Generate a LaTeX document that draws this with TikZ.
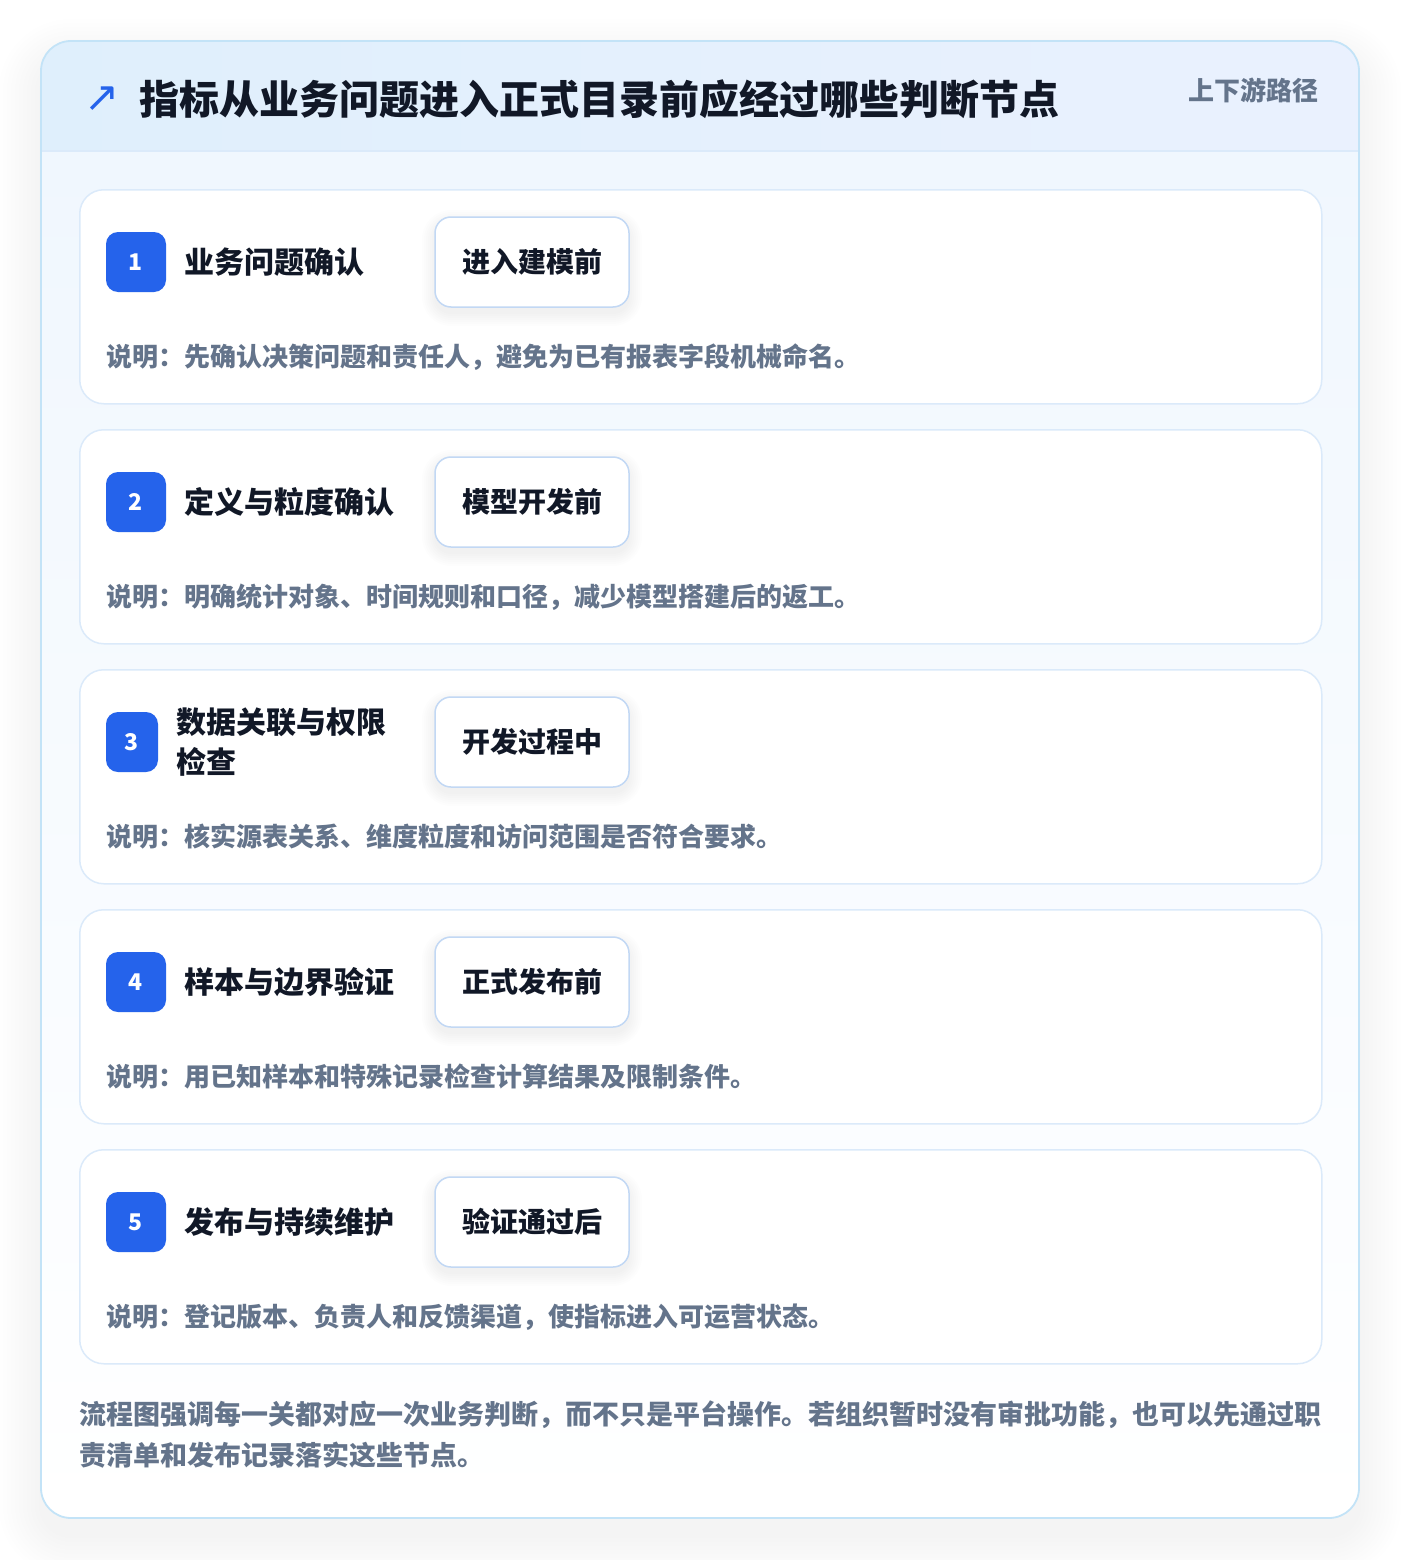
\documentclass[tikz,border=0pt]{standalone}
\usepackage{fontspec}
\setmainfont{Noto Sans CJK SC}
\newfontfamily\symfont{DejaVu Sans}
\usetikzlibrary{calc}
\definecolor{badgeblue}{HTML}{2563EB}
\definecolor{titleink}{HTML}{111827}
\definecolor{mutedink}{HTML}{64748B}
\definecolor{outerline}{HTML}{C3E3F7}
\definecolor{cardline}{HTML}{DBEAFA}
\definecolor{tagline}{HTML}{C2D8F4}
\definecolor{headL}{HTML}{DFEFFC}
\definecolor{headR}{HTML}{EAF1FE}
\definecolor{bodyTop}{HTML}{F0F7FE}
\tikzset{
  cardbox/.style={draw=cardline, line width=1.5pt, fill=white, rounded corners=24pt,
    minimum width=1242pt, minimum height=214pt, anchor=north west, inner sep=0pt},
  badgebox/.style={fill=badgeblue, rounded corners=12pt, minimum height=60pt,
    inner sep=0pt, text=white, font=\bfseries\fontsize{23}{23}\selectfont},
  titletext/.style={anchor=west, inner sep=0pt, align=left, text=titleink,
    font=\bfseries\fontsize{30}{40}\selectfont},
  tagbox/.style={draw=tagline, line width=1.5pt, fill=white, rounded corners=16pt,
    minimum width=194pt, minimum height=90pt, inner sep=0pt, text=titleink,
    font=\bfseries\fontsize{28}{28}\selectfont},
  desctext/.style={anchor=west, inner sep=0pt, text=mutedink,
    font=\bfseries\fontsize{26}{26}\selectfont},
}
\begin{document}
\begin{tikzpicture}[x=1pt,y=-1pt]
\useasboundingbox (0,0) rectangle (1400,1560);
\fill[white] (0,0) rectangle (1400,1560);
% outer shadow
\foreach \r in {2,6,...,42}{
  \fill[black, opacity=0.0055, rounded corners=30pt+\r pt]
    (41-\r,41-\r+20) rectangle (1359+\r,1518+\r+18);
}
% outer card
\begin{scope}
  \clip[rounded corners=30pt] (41,41) rectangle (1359,1518);
  \shade[top color=bodyTop, bottom color=white] (41,151) rectangle (1359,1518);
  \shade[left color=headL, right color=headR] (41,41) rectangle (1359,151);
  \draw[draw=cardline, line width=1.2pt] (41,151) -- (1359,151);
\end{scope}
\draw[draw=outerline, line width=1.8pt, rounded corners=30pt] (41,41) rectangle (1359,1518);
% header
\node[text=badgeblue, inner sep=0pt, font=\symfont\fontsize{42}{42}\selectfont] (arrow) at (102,99) {↗};
\node[anchor=west, inner sep=0pt, text=titleink, font=\bfseries\fontsize{40}{40}\selectfont] (heading) at (139,99) {指标从业务问题进入正式目录前应经过哪些判断节点};
\node[anchor=east, inner sep=0pt, text=mutedink, font=\bfseries\fontsize{26}{26}\selectfont] (pathlabel) at (1319,90) {上下游路径};
% cards
\foreach \i/\bw/\tx/\ttl/\tg/\ds in {
 1/60/184/{业务问题确认}/{进入建模前}/{说明：先确认决策问题和责任人，避免为已有报表字段机械命名。},
 2/60/184/{定义与粒度确认}/{模型开发前}/{说明：明确统计对象、时间规则和口径，减少模型搭建后的返工。},
 3/52/176/{数据关联与权限\\检查}/{开发过程中}/{说明：核实源表关系、维度粒度和访问范围是否符合要求。},
 4/60/184/{样本与边界验证}/{正式发布前}/{说明：用已知样本和特殊记录检查计算结果及限制条件。},
 5/60/184/{发布与持续维护}/{验证通过后}/{说明：登记版本、负责人和反馈渠道，使指标进入可运营状态。}
}{
  \pgfmathsetmacro\ctop{189+240*(\i-1)}
  \pgfmathsetmacro\bx{106+\bw/2}
  \node[cardbox] (card\i) at (79,\ctop) {};
  \node[badgebox, minimum width=\bw pt] (badge\i) at (\bx,\ctop+73) {\i};
  \node[titletext] (title\i) at (\tx,\ctop+73) {\ttl};
  \foreach \r in {1,3,...,13}{
    \fill[black, opacity=0.006, rounded corners=16pt+\r pt]
      (435-\r,\ctop+28-\r+6) rectangle (629+\r,\ctop+118+\r+6);
  }
  \node[tagbox] (tag\i) at (532,\ctop+73) {\tg};
  \node[desctext] (desc\i) at (106,\ctop+168) {\ds};
}
% footer
\node[anchor=north west, inner sep=0pt, align=left, text=mutedink,
  font=\bfseries\fontsize{27}{41}\selectfont] (footer) at (79,1401)
  {流程图强调每一关都对应一次业务判断，而不只是平台操作。若组织暂时没有审批功能，也可以先通过职\\责清单和发布记录落实这些节点。};
\end{tikzpicture}
\end{document}
